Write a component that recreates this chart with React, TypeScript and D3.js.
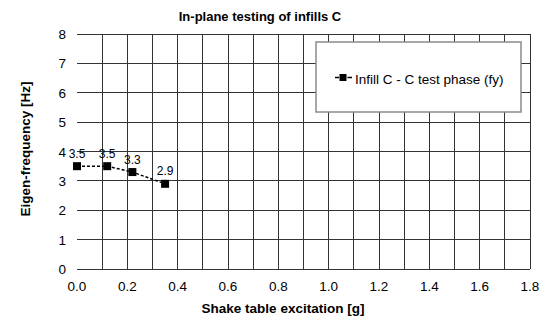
import React from 'react';
import * as d3 from 'd3';

// series: shake table excitation [g] vs eigen-frequency [Hz]
const excitation = [0.0, 0.12, 0.22, 0.35];
const frequency = [3.5, 3.5, 3.3, 2.9];
const pointLabels = ['3.5', '3.5', '3.3', '2.9'];
const seriesName = 'Infill C - C test phase (fy)';

const xTicks = d3.range(0, 1.81, 0.2);
const xGrid = d3.range(0, 1.81, 0.1);
const yTicks = d3.range(0, 9, 1);

const W = 550;
const H = 324;
const margin = { top: 34, right: 20, bottom: 55, left: 77 };
const FONT = '"Liberation Sans", Arial, sans-serif';

export default function App() {
  const x = d3.scaleLinear().domain([0, 1.8]).range([margin.left, W - margin.right]);
  const y = d3.scaleLinear().domain([0, 8]).range([H - margin.bottom, margin.top]);

  const pts = excitation.map((e, i) => [x(e), y(frequency[i])] as [number, number]);
  const line = d3.line();

  const gridColor = '#333';

  return (
    <svg
      width={W}
      height={H}
      style={{ position: 'absolute', left: 0, top: 0, background: '#fff' }}
      fontFamily={FONT}
    >
      <rect width={W} height={H} fill="#fff" />
      <text x={260} y={21} textAnchor="middle" fontSize={13} fontWeight="bold">
        In-plane testing of infills C
      </text>

      {/* grid */}
      <g stroke={gridColor} strokeWidth={1} shapeRendering="crispEdges">
        {xGrid.map((v, i) =>
          i === 0 ? null : (
            <line key={'vx' + i} x1={x(v)} x2={x(v)} y1={y(8)} y2={y(0)} />
          )
        )}
        {yTicks.map((v) => (
          <line key={'hy' + v} x1={x(0)} x2={x(1.8)} y1={y(v)} y2={y(v)} />
        ))}
      </g>

      {/* y tick labels */}
      <g fontSize={13.5} textAnchor="end">
        {yTicks.map((v) => (
          <text key={'yt' + v} x={x(0) - 11} y={y(v) + 5}>
            {d3.format('d')(v)}
          </text>
        ))}
      </g>

      {/* x tick labels */}
      <g fontSize={13.5} textAnchor="middle">
        {xTicks.map((v) => (
          <text key={'xt' + v} x={x(v)} y={y(0) + 21.5}>
            {d3.format('.1f')(v)}
          </text>
        ))}
      </g>

      <text x={283} y={313} textAnchor="middle" fontSize={13.5} fontWeight="bold">
        Shake table excitation [g]
      </text>
      <text
        transform={`translate(30,149) rotate(-90)`}
        textAnchor="middle"
        fontSize={13.5}
        fontWeight="bold"
      >
        Eigen-frequency [Hz]
      </text>

      {/* legend */}
      <rect x={316} y={42} width={205} height={70} fill="#fff" stroke="#8a8a8a" strokeWidth={1.5} />
      <g stroke="#000" strokeWidth={1.5}>
        <line x1={335} x2={339} y1={77.5} y2={77.5} />
        <line x1={347.5} x2={352} y1={77.5} y2={77.5} />
      </g>
      <rect x={339.5} y={74} width={7} height={7} fill="#000" />
      <text x={355} y={83.5} fontSize={13.5}>
        {seriesName}
      </text>

      {/* series */}
      <path d={line(pts) || ''} fill="none" stroke="#000" strokeWidth={1.5} strokeDasharray="3,2" />
      {pts.map(([px, py], i) => (
        <rect key={'m' + i} x={px - 4} y={py - 4} width={8} height={8} fill="#000" />
      ))}
      <g fontSize={12} textAnchor="middle">
        {pts.map(([px, py], i) => (
          <text key={'l' + i} x={px} y={py - 8.5}>
            {pointLabels[i]}
          </text>
        ))}
      </g>
    </svg>
  );
}
